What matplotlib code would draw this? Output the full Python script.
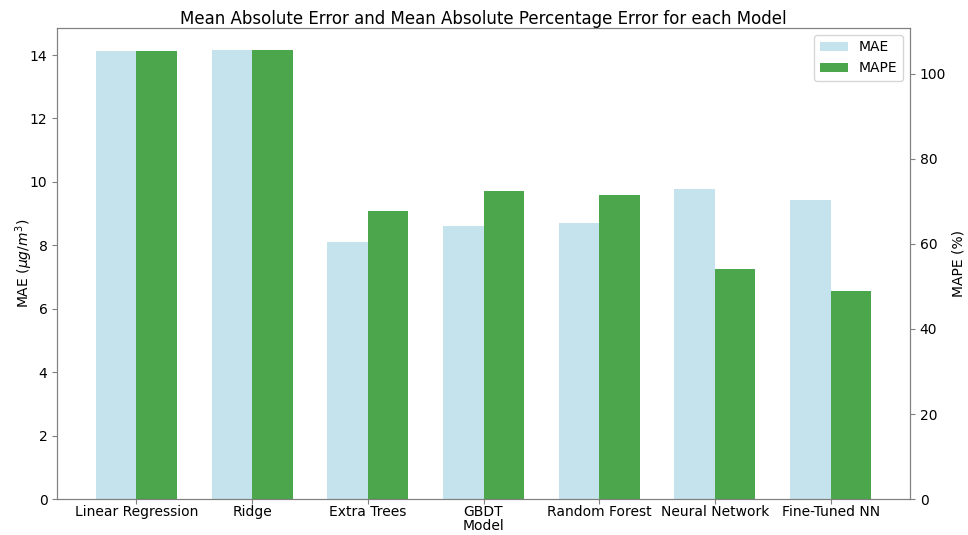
import numpy as np
import matplotlib
matplotlib.use('Agg')
import matplotlib.pyplot as plt

models = ['Linear Regression', 'Ridge', 'Extra Trees', 'GBDT',
          'Random Forest', 'Neural Network', 'Fine-Tuned NN']
mae = [14.12, 14.15, 8.10, 8.62, 8.71, 9.77, 9.43]
mape = [105.3, 105.5, 67.8, 72.5, 71.4, 54.0, 48.9]

x = np.arange(len(models))
width = 0.35

fig, ax1 = plt.subplots(figsize=(9.68, 5.35), dpi=100)
fig.subplots_adjust(left=0.059, right=0.94, top=0.948, bottom=0.067)

b1 = ax1.bar(x - width / 2, mae, width, color='lightblue', alpha=0.7, label='MAE')
ax1.set_xlabel('Model', labelpad=0)
ax1.set_ylabel(r'MAE ($\mu g/m^3$)', labelpad=-4)
ax1.set_xticks(x)
ax1.set_xticklabels(models)

ax2 = ax1.twinx()
b2 = ax2.bar(x + width / 2, mape, width, color='green', alpha=0.7, label='MAPE')
ax2.set_ylabel('MAPE (%)')

for ax in (ax1, ax2):
    for s in ax.spines.values():
        s.set_color('gray')
    ax.tick_params(colors='gray', labelcolor='black')
ax1.tick_params(axis='x', pad=1)

ax1.legend([b1, b2], ['MAE', 'MAPE'], loc='upper right')
ax1.set_title('Mean Absolute Error and Mean Absolute Percentage Error for each Model', pad=3)

fig.savefig('out.png')
